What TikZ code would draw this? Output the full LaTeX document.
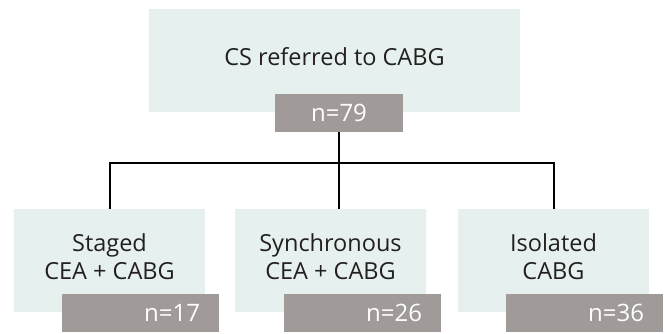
\documentclass[tikz,border=0pt]{standalone}
\usepackage{fontspec}
\setmainfont{Open Sans}
\definecolor{boxbg}{HTML}{E6F0EF}
\definecolor{numbg}{HTML}{A09B98}
\definecolor{txt}{HTML}{231F20}
\begin{document}
\begin{tikzpicture}[x=1pt,y=-1pt,
  group/.style={fill=boxbg,draw=none,minimum width=191pt,minimum height=103pt,inner sep=0pt},
  topgroup/.style={group,minimum width=371pt},
  label/.style={inner sep=0pt,align=center,text=txt,font=\fontsize{23.5}{28}\selectfont},
  count/.style={fill=numbg,draw=none,minimum width=157pt,minimum height=38pt,inner sep=0pt,text=white,font=\fontsize{24}{26}\selectfont,text width=119pt,align=right},
  topcount/.style={count,minimum width=128pt,text width=100pt,align=center},
  link/.style={draw=black,line width=2pt}]
\useasboundingbox (0,0) rectangle (665,334);
\node[topgroup] (top) at (334.5,60.5) {};
\node[label] (topt) at ([yshift=4pt]top.center) {CS referred to CABG};
\node[topcount] (n79) at (339,113) {n=79};
\node[group] (b1) at (109.5,260.5) {};
\node[group] (b2) at (330.5,260.5) {};
\node[group] (b3) at (553.5,260.5) {};
\node[label] (b1t) at ([yshift=4pt]b1.center) {Staged\\CEA + CABG};
\node[label] (b2t) at ([yshift=4pt]b2.center) {Synchronous\\CEA + CABG};
\node[label] (b3t) at ([yshift=4pt]b3.center) {Isolated\\CABG};
\node[count] (n17) at (140.5,313) {n=17};
\node[count] (n26) at (362.5,313) {n=26};
\node[count] (n36) at (584.5,313) {n=36};
\coordinate (j) at (339,163);
\draw[link] (n79.south) -- (j);
\draw[link] (b1.north) |- (j) -| (b3.north);
\draw[link] (j) -- (j |- b2.north);
\end{tikzpicture}
\end{document}
